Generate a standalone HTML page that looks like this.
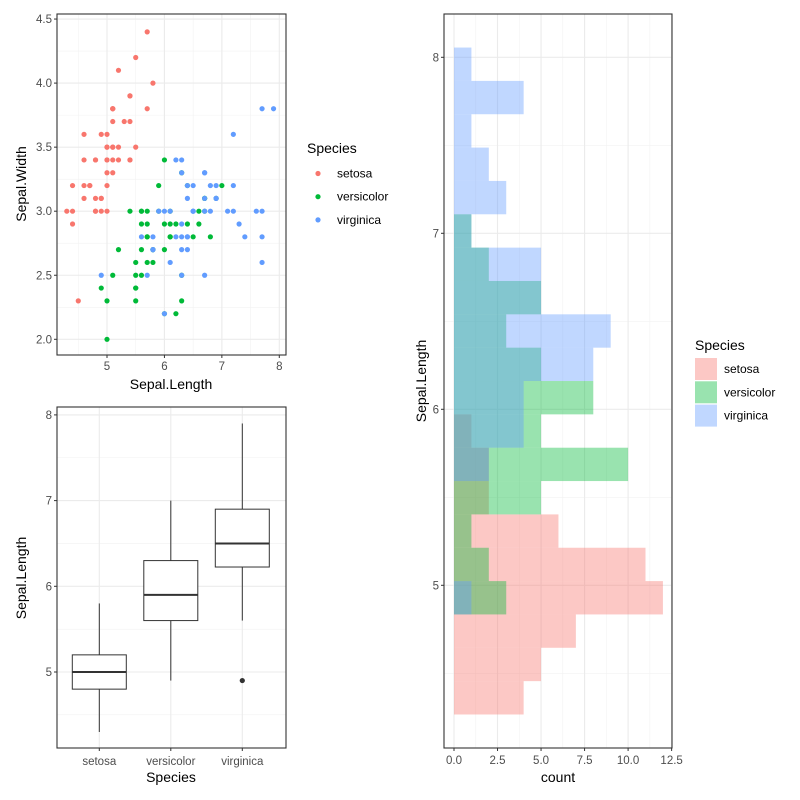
<!DOCTYPE html>
<html><head><meta charset="utf-8">
<style>
body{margin:0;background:#fff;}
svg{display:block;font-family:"Liberation Sans",Arial,sans-serif;}
.tick{font-size:11.5px;fill:#4D4D4D;}
.ttl{font-size:14px;fill:#000;}
.leg{font-size:12px;fill:#000;}
</style></head>
<body>
<svg id="chart" width="800" height="800" viewBox="0 0 800 800"></svg>
<script>
const species = ["setosa","versicolor","virginica"];
const colors = ["#F8766D","#00BA38","#619CFF"];
const sepalLength = [
 [5.1,4.9,4.7,4.6,5.0,5.4,4.6,5.0,4.4,4.9,5.4,4.8,4.8,4.3,5.8,5.7,5.4,5.1,5.7,5.1,5.4,5.1,4.6,5.1,4.8,5.0,5.0,5.2,5.2,4.7,4.8,5.4,5.2,5.5,4.9,5.0,5.5,4.9,4.4,5.1,5.0,4.5,4.4,5.0,5.1,4.8,5.1,4.6,5.3,5.0],
 [7.0,6.4,6.9,5.5,6.5,5.7,6.3,4.9,6.6,5.2,5.0,5.9,6.0,6.1,5.6,6.7,5.6,5.8,6.2,5.6,5.9,6.1,6.3,6.1,6.4,6.6,6.8,6.7,6.0,5.7,5.5,5.5,5.8,6.0,5.4,6.0,6.7,6.3,5.6,5.5,5.5,6.1,5.8,5.0,5.6,5.7,5.7,6.2,5.1,5.7],
 [6.3,5.8,7.1,6.3,6.5,7.6,4.9,7.3,6.7,7.2,6.5,6.4,6.8,5.7,5.8,6.4,6.5,7.7,7.7,6.0,6.9,5.6,7.7,6.3,6.7,7.2,6.2,6.1,6.4,7.2,7.4,7.9,6.4,6.3,6.1,7.7,6.3,6.4,6.0,6.9,6.7,6.9,5.8,6.8,6.7,6.7,6.3,6.5,6.2,5.9]
];
const sepalWidth = [
 [3.5,3.0,3.2,3.1,3.6,3.9,3.4,3.4,2.9,3.1,3.7,3.4,3.0,3.0,4.0,4.4,3.9,3.5,3.8,3.8,3.4,3.7,3.6,3.3,3.4,3.0,3.4,3.5,3.4,3.2,3.1,3.4,4.1,4.2,3.1,3.2,3.5,3.6,3.0,3.4,3.5,2.3,3.2,3.5,3.8,3.0,3.8,3.2,3.7,3.3],
 [3.2,3.2,3.1,2.3,2.8,2.8,3.3,2.4,2.9,2.7,2.0,3.0,2.2,2.9,2.9,3.1,3.0,2.7,2.2,2.5,3.2,2.8,2.5,2.8,2.9,3.0,2.8,3.0,2.9,2.6,2.4,2.4,2.7,2.7,3.0,3.4,3.1,2.3,3.0,2.5,2.6,3.0,2.6,2.3,2.7,3.0,2.9,2.9,2.5,2.8],
 [3.3,2.7,3.0,2.9,3.0,3.0,2.5,2.9,2.5,3.6,3.2,2.7,3.0,2.5,2.8,3.2,3.0,3.8,2.6,2.2,3.2,2.8,2.8,2.7,3.3,3.2,2.8,3.0,2.8,3.0,2.8,3.8,2.8,2.8,2.6,3.0,3.4,3.1,3.0,3.1,3.1,3.1,2.7,3.2,3.3,3.0,2.5,3.0,3.4,3.0]
];
// boxplot stats: [lowerWhisker, q1, median, q3, upperWhisker]
const boxStats = [[4.3,4.8,5.0,5.2,5.8],[4.9,5.6,5.9,6.3,7.0],[5.6,6.225,6.5,6.9,7.9]];
const boxOutliers = [[],[],[4.9]];
const scatterXTicks = [5,6,7,8];
const scatterYTicks = [2.0,2.5,3.0,3.5,4.0,4.5];
const boxYTicks = [5,6,7,8];
const histYTicks = [5,6,7,8];
const histXTicks = [0,2.5,5,7.5,10,12.5];
const histBinStart = 4.266, histBinWidth = 0.18947, histBins = 20;

const NS="http://www.w3.org/2000/svg";
const svg=document.getElementById('chart');
function mk(tag,attrs,parent){const e=document.createElementNS(NS,tag);for(const k in attrs)e.setAttribute(k,attrs[k]);(parent||svg).appendChild(e);return e;}
function txt(s,attrs,parent){const e=mk('text',attrs,parent);e.textContent=s;return e;}

// ---------- Scatter ----------
const sx=v=>107+(v-5)*57.43, sy=v=>339.3-(v-2)*128.1;
const gS=mk('g',{});  
const SL=57,SR=286,ST=14,SB=355;
[4.5,5.5,6.5,7.5].forEach(v=>{const l=mk('line',{x1:sx(v),x2:sx(v),y1:ST,y2:SB,stroke:'#F2F2F2','stroke-width':0.6},gS);});
[2.25,2.75,3.25,3.75,4.25].forEach(v=>{const l=mk('line',{x1:SL,x2:SR,y1:sy(v),y2:sy(v),stroke:'#F2F2F2','stroke-width':0.6},gS);});
scatterXTicks.forEach(v=>{const l=mk('line',{x1:sx(v),x2:sx(v),y1:ST,y2:SB,stroke:'#EBEBEB','stroke-width':1.1},gS);
 const t=mk('line',{x1:sx(v),x2:sx(v),y1:SB,y2:SB+3,stroke:'#333'},gS);
 const lb=txt(String(v),{x:sx(v),y:SB+15,'text-anchor':'middle',class:'tick'},gS);});
scatterYTicks.forEach(v=>{const l=mk('line',{x1:SL,x2:SR,y1:sy(v),y2:sy(v),stroke:'#EBEBEB','stroke-width':1.1},gS);
 const t=mk('line',{x1:SL-3,x2:SL,y1:sy(v),y2:sy(v),stroke:'#333'},gS);
 const lb=txt(v.toFixed(1),{x:SL-5,y:sy(v)+4,'text-anchor':'end',class:'tick'},gS);});
species.forEach((s,i)=>{sepalLength[i].forEach((x,j)=>{const c=mk('circle',{cx:sx(x),cy:sy(sepalWidth[i][j]),r:2.6,fill:colors[i]},gS);});});
let r=mk('rect',{x:SL,y:ST,width:SR-SL,height:SB-ST,fill:'none',stroke:'#333','stroke-width':1.1},gS);
let t=txt('Sepal.Length',{x:171,y:389,'text-anchor':'middle',class:'ttl'},gS);
t=txt('Sepal.Width',{x:0,y:0,'text-anchor':'middle',class:'ttl',transform:'translate(26,184) rotate(-90)'},gS);
// scatter legend
const gL1=mk('g',{});  
t=txt('Species',{x:307,y:153,class:'ttl'},gL1);
species.forEach((s,i)=>{const y=173.5+i*23.2;const c=mk('circle',{cx:318,cy:y,r:2.6,fill:colors[i]},gL1);
 const l=txt(s,{x:337,y:y+4,class:'leg'},gL1);});

// ---------- Boxplot ----------
const BL=57,BR=286,BT=407,BB=748;
const by=v=>672-(v-5)*85.7, bx=i=>99.3+i*71.5;
const gB=mk('g',{});  
[4.5,5.5,6.5,7.5].forEach(v=>{const l=mk('line',{x1:BL,x2:BR,y1:by(v),y2:by(v),stroke:'#F2F2F2','stroke-width':0.6},gB);});
boxYTicks.forEach(v=>{const l=mk('line',{x1:BL,x2:BR,y1:by(v),y2:by(v),stroke:'#EBEBEB','stroke-width':1.1},gB);
 const tk=mk('line',{x1:BL-3,x2:BL,y1:by(v),y2:by(v),stroke:'#333'},gB);
 const lb=txt(String(v),{x:BL-5,y:by(v)+4,'text-anchor':'end',class:'tick'},gB);});
species.forEach((s,i)=>{const x=bx(i);
 const l=mk('line',{x1:x,x2:x,y1:BT,y2:BB,stroke:'#EBEBEB','stroke-width':1.1},gB);
 const tk=mk('line',{x1:x,x2:x,y1:BB,y2:BB+3,stroke:'#333'},gB);
 const lb=txt(s,{x:x,y:BB+17,'text-anchor':'middle',class:'tick'},gB);});
species.forEach((s,i)=>{const x=bx(i),st=boxStats[i],hw=27;
 const g=mk('g',{},gB);
 let e=mk('line',{x1:x,x2:x,y1:by(st[0]),y2:by(st[1]),stroke:'#333','stroke-width':1},g);
 e=mk('line',{x1:x,x2:x,y1:by(st[3]),y2:by(st[4]),stroke:'#333','stroke-width':1},g);
 e=mk('rect',{x:x-hw,y:by(st[3]),width:2*hw,height:by(st[1])-by(st[3]),fill:'#fff',stroke:'#333','stroke-width':1},g);
 e=mk('line',{x1:x-hw,x2:x+hw,y1:by(st[2]),y2:by(st[2]),stroke:'#333','stroke-width':2},g);
 boxOutliers[i].forEach(o=>{const c=mk('circle',{cx:x,cy:by(o),r:2.6,fill:'#333'},g);});});
r=mk('rect',{x:BL,y:BT,width:BR-BL,height:BB-BT,fill:'none',stroke:'#333','stroke-width':1.1},gB);
t=txt('Species',{x:171,y:782,'text-anchor':'middle',class:'ttl'},gB);
t=txt('Sepal.Length',{x:0,y:0,'text-anchor':'middle',class:'ttl',transform:'translate(26,578) rotate(-90)'},gB);

// ---------- Histogram ----------
const HL=444,HR=672,HT=14,HB=748;
const hx=v=>454+v*17.41, hy=v=>585.3-(v-5)*176;
const gH=mk('g',{});  
[1.25,3.75,6.25,8.75,11.25].forEach(v=>{const l=mk('line',{x1:hx(v),x2:hx(v),y1:HT,y2:HB,stroke:'#F2F2F2','stroke-width':0.6},gH);});
[4.5,5.5,6.5,7.5].forEach(v=>{const l=mk('line',{x1:HL,x2:HR,y1:hy(v),y2:hy(v),stroke:'#F2F2F2','stroke-width':0.6},gH);});
histXTicks.forEach(v=>{const l=mk('line',{x1:hx(v),x2:hx(v),y1:HT,y2:HB,stroke:'#EBEBEB','stroke-width':1.1},gH);
 const tk=mk('line',{x1:hx(v),x2:hx(v),y1:HB,y2:HB+3,stroke:'#333'},gH);
 const lb=txt(v.toFixed(1),{x:hx(v),y:HB+16,'text-anchor':'middle',class:'tick'},gH);});
histYTicks.forEach(v=>{const l=mk('line',{x1:HL,x2:HR,y1:hy(v),y2:hy(v),stroke:'#EBEBEB','stroke-width':1.1},gH);
 const tk=mk('line',{x1:HL-3,x2:HL,y1:hy(v),y2:hy(v),stroke:'#333'},gH);
 const lb=txt(String(v),{x:HL-5,y:hy(v)+4,'text-anchor':'end',class:'tick'},gH);});
species.forEach((s,i)=>{const counts=new Array(histBins).fill(0);
 sepalLength[i].forEach(v=>{let k=Math.floor((v-histBinStart)/histBinWidth);k=Math.max(0,Math.min(histBins-1,k));counts[k]++;});
 counts.forEach((c,k)=>{if(!c)return;const y0=histBinStart+k*histBinWidth,y1=y0+histBinWidth;
  const b=mk('rect',{x:hx(0),y:hy(y1),width:hx(c)-hx(0),height:hy(y0)-hy(y1),fill:colors[i],'fill-opacity':0.4},gH);
  });});
r=mk('rect',{x:HL,y:HT,width:HR-HL,height:HB-HT,fill:'none',stroke:'#333','stroke-width':1.1},gH);
t=txt('count',{x:558,y:782,'text-anchor':'middle',class:'ttl'},gH);
t=txt('Sepal.Length',{x:0,y:0,'text-anchor':'middle',class:'ttl',transform:'translate(426,381) rotate(-90)'},gH);
const gL2=mk('g',{});  
t=txt('Species',{x:695,y:350,class:'ttl'},gL2);
species.forEach((s,i)=>{const y=358+i*23.3;const k=mk('rect',{x:695,y:y,width:22,height:22,fill:colors[i],'fill-opacity':0.4},gL2);
 const l=txt(s,{x:724,y:y+15,class:'leg'},gL2);});
</script>
</body></html>
